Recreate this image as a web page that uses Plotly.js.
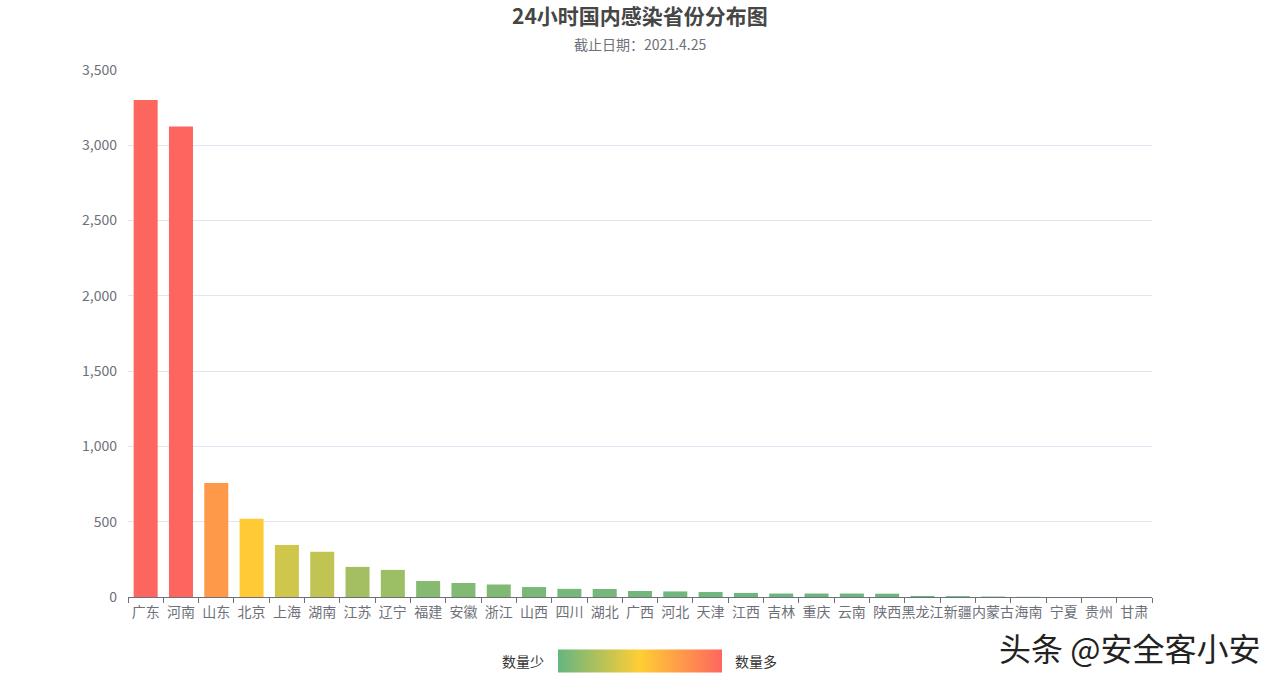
<!DOCTYPE html>
<html>
<head>
<meta charset="utf-8">
<script src="https://cdn.plot.ly/plotly-3.0.1.min.js"></script>
<style>html,body{margin:0;padding:0;background:#fff;}#chart{width:1280px;height:680px;}</style>
</head>
<body>
<div id="chart"></div>
<script>
const provinces = ['广东','河南','山东','北京','上海','湖南','江苏','辽宁','福建','安徽','浙江','山西','四川','湖北','广西','河北','天津','江西','吉林','重庆','云南','陕西','黑龙江','新疆','内蒙古','海南','宁夏','贵州','甘肃'];
const counts = [3300,3125,757,520,345,300,200,180,106,93,83,66,54,53,40,37,33,27,23,23,23,22,7,6,3,1,0,0,0];
const yTicks = [0,500,1000,1500,2000,2500,3000,3500];
const titleText = '24小时国内感染省份分布图';
const subtitleText = '截止日期：2021.4.25';
const legendLow = '数量少';
const legendHigh = '数量多';
const watermark = '头条 @安全客小安';

const font = '"Noto Sans CJK SC", "Noto Sans", sans-serif';

const trace = {
  type: 'bar',
  x: provinces,
  y: counts,
  marker: {
    color: counts,
    cmin: 0,
    cmax: 1000,
    colorscale: [[0,'#65B581'],[0.5,'#FFCE34'],[1,'#FD665F']],
    showscale: true,
    colorbar: {
      orientation: 'h',
      x: 0.5, xanchor: 'center',
      y: -0.1214, yanchor: 'middle',
      lenmode: 'pixels', len: 164,
      thickness: 23,
      outlinewidth: 0,
      showticklabels: false,
      ticks: '',
      xpad: 0, ypad: 0
    }
  },
  hoverinfo: 'x+y'
};

const layout = {
  width: 1280, height: 680,
  margin: {l: 128, r: 128, t: 70, b: 83, autoexpand: false},
  paper_bgcolor: '#fff', plot_bgcolor: '#fff',
  font: {family: font, color: '#6E7079', size: 14},
  bargap: 0.32,
  showlegend: false,
  xaxis: {
    type: 'category',
    tickson: 'boundaries',
    ticks: 'outside', ticklen: 5, tickcolor: '#6E7079',
    showline: true, linecolor: '#6E7079', linewidth: 1,
    showgrid: false,
    tickfont: {size: 14, color: '#6E7079'},
    tickangle: 0,
    ticklabelstandoff: 2,
    automargin: false,
    fixedrange: true
  },
  yaxis: {
    range: [0, 3500],
    tickvals: yTicks,
    tickformat: ',d',
    showgrid: true, gridcolor: '#E0E6F1', gridwidth: 1,
    zeroline: false, showline: false,
    ticks: '', ticklabelstandoff: 10,
    tickfont: {size: 14, color: '#6E7079'},
    automargin: false,
    fixedrange: true
  },
  annotations: [
    {text: '<b>' + titleText + '</b>', xref: 'paper', yref: 'paper', x: 0.5, y: (597-15)/527, xanchor: 'center', yanchor: 'middle',
     showarrow: false, font: {size: 21, color: '#464646', family: font}},
    {text: subtitleText, xref: 'paper', yref: 'paper', x: 0.5, y: (597-44)/527, xanchor: 'center', yanchor: 'middle',
     showarrow: false, font: {size: 14, color: '#6E7079', family: font}},
    {text: legendLow, xref: 'paper', yref: 'paper', x: (546-128)/1024, y: -0.1214, xanchor: 'right', yanchor: 'middle',
     showarrow: false, font: {size: 14, color: '#333', family: font}},
    {text: legendHigh, xref: 'paper', yref: 'paper', x: (733-128)/1024, y: -0.1214, xanchor: 'left', yanchor: 'middle',
     showarrow: false, font: {size: 14, color: '#333', family: font}},
    {text: watermark, xref: 'paper', yref: 'paper', x: (1262-128)/1024, y: (597-647)/527, xanchor: 'right', yanchor: 'middle',
     showarrow: false, font: {size: 32, color: '#222', family: font}}
  ]
};

Plotly.newPlot('chart', [trace], layout, {displayModeBar: false, staticPlot: true});
</script>
</body>
</html>
